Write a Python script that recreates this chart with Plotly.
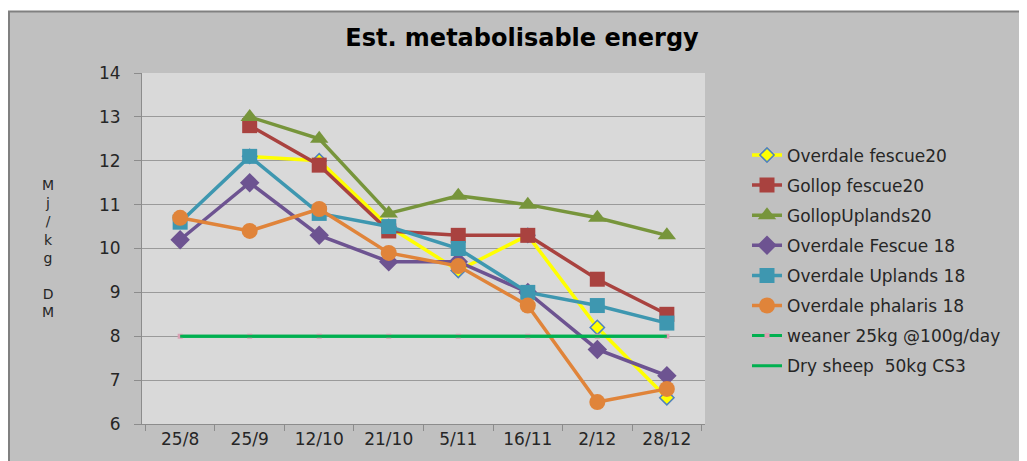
import plotly.graph_objects as go

dates = ["25/8", "25/9", "12/10", "21/10", "5/11", "16/11", "2/12", "28/12"]

overdale_fescue20 = [None, 12.1, 12.0, 10.5, 9.5, 10.3, 8.2, 6.6]
gollop_fescue20 = [None, 12.8, 11.9, 10.4, 10.3, 10.3, 9.3, 8.5]
gollop_uplands20 = [None, 13.0, 12.5, 10.8, 11.2, 11.0, 10.7, 10.3]
overdale_fescue18 = [10.2, 11.5, 10.3, 9.7, 9.7, 9.0, 7.7, 7.1]
overdale_uplands18 = [10.6, 12.1, 10.8, 10.5, 10.0, 9.0, 8.7, 8.3]
overdale_phalaris18 = [10.7, 10.4, 10.9, 9.9, 9.6, 8.7, 6.5, 6.8]
weaner = [8, 8, 8, 8, 8, 8, 8, 8]
dry_sheep = [8, 8, 8, 8, 8, 8, 8, 8]

FONT = "DejaVu Sans"

series = [
    ("Overdale fescue20", overdale_fescue20, "#ffff00",
     dict(symbol="diamond", size=11, color="#ffff00", line=dict(color="#4f81bd", width=1.5))),
    ("Gollop fescue20", gollop_fescue20, "#a9423f",
     dict(symbol="square", size=15, color="#a9423f")),
    ("GollopUplands20", gollop_uplands20, "#77953b",
     dict(symbol="triangle-up", size=16, color="#77953b")),
    ("Overdale Fescue 18", overdale_fescue18, "#6d5391",
     dict(symbol="diamond", size=15, color="#6d5391")),
    ("Overdale Uplands 18", overdale_uplands18, "#3e97b0",
     dict(symbol="square", size=15, color="#3e97b0")),
    ("Overdale phalaris 18", overdale_phalaris18, "#e0843a",
     dict(symbol="circle", size=16, color="#e0843a")),
]

fig = go.Figure()
for name, vals, color, marker in series:
    fig.add_trace(go.Scatter(
        x=dates, y=vals, name=name, legendgroup=name, mode="lines+markers",
        line=dict(color=color, width=3.5), marker=marker,
    ))

fig.add_trace(go.Scatter(
    x=dates, y=weaner, name="weaner 25kg @100g/day", legendgroup="weaner",
    mode="lines+markers", line=dict(color="#00b050", width=3),
    marker=dict(symbol="square", size=5, color="#d9a0b4"),
))
fig.add_trace(go.Scatter(
    x=dates, y=dry_sheep, name="Dry sheep  50kg CS3", legendgroup="dry",
    mode="lines", line=dict(color="#00b050", width=3),
))

# page is drawn with an 8px body margin, so figure coords = page coords - 8
W, H = 1019, 453
L, R, T, B = 134, 322, 65, 34
pw = W - L - R
ph = H - T - B
top_border = 1 + (T - 3) / ph

fig.update_layout(
    width=W, height=H,
    margin=dict(l=L, r=R, t=T, b=B),
    paper_bgcolor="#c0c0c0",
    plot_bgcolor="#d9d9d9",
    font=dict(family=FONT, color="#262626"),
    title=dict(text="<b>Est. metabolisable energy</b>", x=514 / W, xanchor="center",
               y=1 - 30 / H, yanchor="middle",
               font=dict(family=FONT, size=24, color="#000000")),
    showlegend=True,
    legend=dict(x=(739 - L) / pw, xanchor="left", y=1 - (130 - T) / ph, yanchor="top",
                bgcolor="rgba(0,0,0,0)", font=dict(family=FONT, size=17, color="#262626"),
                tracegroupgap=5),
    shapes=[
        dict(type="rect", xref="paper", yref="paper", x0=-0.5, x1=1.7,
             y0=top_border, y1=1.5, fillcolor="white", line=dict(width=0), layer="below"),
        dict(type="line", xref="paper", yref="paper", x0=-L / pw, x1=1.7,
             y0=top_border, y1=top_border, line=dict(color="#808080", width=2)),
        dict(type="line", xref="paper", yref="paper", x0=-L / pw + 1 / pw, x1=-L / pw + 1 / pw,
             y0=-0.5, y1=top_border, line=dict(color="#808080", width=2)),
    ],
    annotations=[
        dict(text="M<br>j<br>/<br>k<br>g<br> <br>D<br>M", xref="paper", yref="paper",
             x=-(L - 40) / pw, y=1 - (242 - T) / ph, xanchor="center", yanchor="middle",
             showarrow=False, font=dict(family=FONT, size=14, color="#262626")),
    ],
)

fig.update_xaxes(
    type="category", tickson="boundaries", ticks="outside", ticklen=6,
    tickcolor="#8c8c8c", showline=True, linecolor="#8c8c8c", linewidth=1,
    showgrid=False, tickfont=dict(family=FONT, size=17, color="#262626"),
)
fig.update_yaxes(
    range=[6, 14], dtick=1, ticks="outside", ticklen=7, tickcolor="#8c8c8c",
    showline=True, linecolor="#8c8c8c", linewidth=1, ticklabelstandoff=10,
    showgrid=True, gridcolor="#9a9a9a", gridwidth=1, zeroline=False,
    tickfont=dict(family=FONT, size=17, color="#262626"),
)

fig.write_html("out.html")
